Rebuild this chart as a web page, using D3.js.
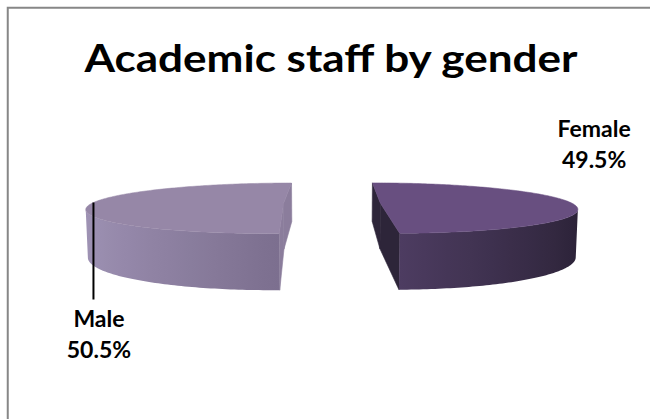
<!DOCTYPE html>
<html>
<head>
<meta charset="utf-8">
<script src="https://cdn.jsdelivr.net/npm/d3@7"></script>
<style>
  html, body { margin: 0; padding: 0; background: #fff; }
  svg { display: block; }
</style>
</head>
<body>
<svg id="chart" width="650" height="419"></svg>
<script>
// Chart data
const categories = ["Female", "Male"];
const shares = [49.5, 50.5];
const labelText = ["49.5%", "50.5%"];
const title = "Academic staff by gender";

// Per-slice colours: top face, cut face, wall light -> dark
const topColors = ["#684f80", "#9687a7"];
const cutColors = ["#2d2539", "#8b7d9c"];
const wallLight = ["#5a476f", "#a094b6"];
const wallMid = ["#4e3d62", "#7d7090"];
const wallDark = ["#2a2135", "#5c5168"];

const W = 650, H = 419;
const svg = d3.select("#chart");

// Frame
svg.append("rect")
  .attr("x", 7.75).attr("y", 7.75)
  .attr("width", W + 20).attr("height", H + 20)
  .attr("fill", "#fff")
  .attr("stroke", "#878787")
  .attr("stroke-width", 2);

// Title
svg.append("text")
  .attr("x", 331).attr("y", 72)
  .attr("text-anchor", "middle")
  .attr("font-family", "Lato, 'Open Sans', sans-serif")
  .attr("font-weight", 700)
  .attr("font-size", 38)
  .attr("textLength", 493)
  .attr("lengthAdjust", "spacingAndGlyphs")
  .attr("fill", "#000")
  .text(title);

// 3-D pie geometry (world units in px)
const R = 198, depth = 48, explode = 50;
const camDist = 1000, focal = 960, tilt = 10 * Math.PI / 180;
const cx = 332, cy = 249;
const sinT = Math.sin(tilt), cosT = Math.cos(tilt);

function project(X, Y, Z) {
  const d = camDist - (Y * sinT + Z * cosT);
  return [cx + focal * X / d, cy - focal * (Y * cosT - Z * sinT) / d];
}

const pie = d3.pie().sort(null).value(d => d)(shares);

const defs = svg.append("defs");
const pieG = svg.append("g");

pie.forEach((arc, i) => {
  const a0 = arc.startAngle, a1 = arc.endAngle;
  const mid = (a0 + a1) / 2;
  const ox = explode * Math.sin(mid), oz = -explode * Math.cos(mid);
  const rim = (t, Y) => project(ox + R * Math.sin(t), Y, oz - R * Math.cos(t));
  const ctr = Y => project(ox, Y, oz);
  const g = pieG.append("g");

  // Radial cut faces
  [a0, a1].forEach(t => {
    const pts = [ctr(depth), rim(t, depth), rim(t, 0), ctr(0)];
    g.append("path")
      .attr("d", d3.line()(pts) + "Z")
      .attr("fill", cutColors[i])
      .attr("stroke", cutColors[i])
      .attr("stroke-width", 0.6);
  });

  // Outer wall: keep the part facing the camera
  const steps = 180;
  const angles = d3.range(steps + 1).map(k => a0 + (a1 - a0) * k / steps);
  const cam = [0, camDist * sinT, camDist * cosT];
  const vis = angles.filter(t => {
    const P = [ox + R * Math.sin(t), depth / 2, oz - R * Math.cos(t)];
    const n = [Math.sin(t), 0, -Math.cos(t)];
    return n[0] * (cam[0] - P[0]) + n[2] * (cam[2] - P[2]) > 0;
  });
  if (vis.length > 1) {
    const topPts = vis.map(t => rim(t, depth));
    const botPts = vis.map(t => rim(t, 0)).reverse();
    const xs = topPts.map(p => p[0]);
    const x1 = d3.min(xs), x2 = d3.max(xs);
    const shade = d3.scaleLinear()
      .domain([-1, 0, 1])
      .range([wallLight[i], wallMid[i], wallDark[i]])
      .interpolate(d3.interpolateRgb);
    const gid = "wall" + i;
    const grad = defs.append("linearGradient")
      .attr("id", gid)
      .attr("gradientUnits", "userSpaceOnUse")
      .attr("x1", x1).attr("x2", x2).attr("y1", 0).attr("y2", 0);
    const sampled = vis.map(t => ({ x: rim(t, depth)[0], c: shade(Math.sin(t)) }))
      .sort((p, q) => p.x - q.x);
    sampled.filter((s, k) => k % 6 === 0 || k === sampled.length - 1).forEach(s => {
      grad.append("stop")
        .attr("offset", (s.x - x1) / (x2 - x1))
        .attr("stop-color", s.c);
    });
    g.append("path")
      .attr("d", d3.line()(topPts.concat(botPts)) + "Z")
      .attr("fill", `url(#${gid})`);
  }

  // Top face
  const topFace = [ctr(depth)].concat(angles.map(t => rim(t, depth)));
  g.append("path")
    .attr("d", d3.line()(topFace) + "Z")
    .attr("fill", topColors[i])
    .attr("stroke", topColors[i])
    .attr("stroke-width", 0.5);

  // Data label
  const lab = svg.append("text")
    .attr("text-anchor", "middle")
    .attr("font-family", "Lato, 'Open Sans', sans-serif")
    .attr("font-weight", 700)
    .attr("font-size", 23)
    .attr("fill", "#000");
  let lx, ly;
  if (Math.sin(mid) < 0) {
    // Leader line down from the rim of the left slice
    const anchor = rim(mid + 0.05, depth);
    const endY = anchor[1] + 97;
    svg.append("line")
      .attr("x1", anchor[0]).attr("y1", anchor[1])
      .attr("x2", anchor[0]).attr("y2", endY)
      .attr("stroke", "#000").attr("stroke-width", 2);
    lx = anchor[0] + 5.5; ly = endY + 27;
  } else {
    const anchor = rim(mid, depth);
    lx = anchor[0] + 23; ly = anchor[1] - 66;
  }
  lab.append("tspan").attr("x", lx).attr("y", ly).text(categories[i]);
  lab.append("tspan").attr("x", lx).attr("y", ly + 31).text(labelText[i]);
});
</script>
</body>
</html>
